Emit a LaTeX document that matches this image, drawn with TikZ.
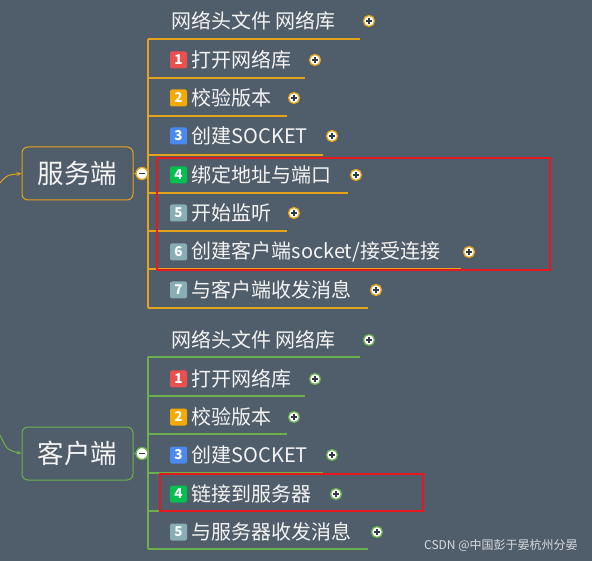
\documentclass[tikz,border=0pt]{standalone}
\usepackage{fontspec}
\setmainfont{Noto Sans CJK SC}
\usetikzlibrary{arrows.meta}
\definecolor{bg}{HTML}{505D6A}
\definecolor{org}{HTML}{E5A31A}
\definecolor{grn}{HTML}{6CB04E}
\definecolor{txt}{HTML}{F4F4F4}
\definecolor{b1}{HTML}{EB5050}
\definecolor{b2}{HTML}{F5AA00}
\definecolor{b3}{HTML}{4A8AF0}
\definecolor{b4}{HTML}{00C050}
\definecolor{b5}{HTML}{86AEB4}
\definecolor{redbox}{HTML}{E8191E}
\definecolor{signcol}{HTML}{303845}
\tikzset{
  badge/.style={rounded corners=2pt, minimum width=17pt, minimum height=17pt, inner sep=0pt,
    text=white, font=\fontsize{13.5}{13.5}\selectfont\bfseries},
  itemtext/.style={text=txt, inner sep=0pt, font=\fontsize{20}{20}\selectfont},
  uline/.style={line width=1.3pt},
  pluscirc/.style={circle, fill=white, line width=1.3pt, minimum size=11pt, inner sep=0pt,
    path picture={\draw[signcol, line width=1.2pt]
      ([xshift=-2.6pt]path picture bounding box.center) -- ([xshift=2.6pt]path picture bounding box.center)
      ([yshift=-2.6pt]path picture bounding box.center) -- ([yshift=2.6pt]path picture bounding box.center);}},
  minuscirc/.style={circle, fill=white, line width=1.3pt, minimum size=12pt, inner sep=0pt,
    path picture={\draw[signcol, line width=1.2pt]
      ([xshift=-2.8pt]path picture bounding box.center) -- ([xshift=2.8pt]path picture bounding box.center);}},
  rootbox/.style={rounded corners=6pt, line width=1pt, minimum width=111pt, minimum height=53pt,
    text=txt, font=\fontsize{26.5}{26.5}\selectfont},
  hilite/.style={draw=redbox, line width=2pt, inner sep=0pt},
}
% #1 name, #2 line colour, #3 text y, #4 underline y, #5 underline end x, #6 plus x, #7 number, #8 badge colour, #9 text
\newcommand\badgeitem[9]{%
  \node[badge, fill=#8] (#1b) at (178.5,#3) {#7};
  \node[itemtext, anchor=west] (#1t) at (191.5,#3) {#9};
  \coordinate (#1s) at (148,#4);
  \coordinate (#1e) at (#5,#4);
  \draw[#2, uline] (#1s) -- (#1e);
  \node[pluscirc, draw=#2] (#1p) at (#6,#3) {};
}
% #1 name, #2 colour, #3 text y, #4 underline y, #5 underline end, #6 plus x, #7 text
\newcommand\plainitem[7]{%
  \node[itemtext, anchor=west] (#1t) at (171,#3) {#7};
  \coordinate (#1s) at (148,#4);
  \coordinate (#1e) at (#5,#4);
  \draw[#2, uline] (#1s) -- (#1e);
  \node[pluscirc, draw=#2] (#1p) at (#6,#3) {};
}
\begin{document}
\begin{tikzpicture}[x=1pt, y=-1pt]
\path[use as bounding box, fill=bg] (0,0) rectangle (592,561);

% ---------- server ----------
\node[rootbox, draw=org] (srv) at (77.5,173.5) {服务端};
\coordinate (srvin) at (0,183);
\draw[org, line width=1pt, -{Stealth[length=5pt,width=4pt]}] (srvin) .. controls (7,175) .. (srv.west);
\coordinate (sv0) at (148,39);
\coordinate (sv1) at (148,308);
\draw[org, uline] (sv0) -- (sv1);
\draw[org, line width=1pt] (srv.east) -- (137,173.5);
\node[minuscirc, draw=org] (srvc) at (142,173.5) {};

\plainitem{s0}{org}{21}{39}{360}{369}{网络头文件 网络库}
\badgeitem{s1}{org}{60}{78}{305}{315}{1}{b1}{打开网络库}
\badgeitem{s2}{org}{98}{116}{287}{294}{2}{b2}{校验版本}
\badgeitem{s3}{org}{136}{155}{323}{332}{3}{b3}{创建SOCKET}
\badgeitem{s4}{org}{175}{193}{348}{356}{4}{b4}{绑定地址与端口}
\badgeitem{s5}{org}{213}{231}{287}{294}{5}{b5}{开始监听}
\badgeitem{s6}{org}{252}{269}{461}{469}{6}{b5}{创建客户端socket/接受连接}
\badgeitem{s7}{org}{290}{308}{368}{376}{7}{b5}{与客户端收发消息}

\node[hilite, minimum width=393pt, minimum height=112pt] (srvred) at (353.5,214) {};

% ---------- client ----------
\node[rootbox, draw=grn] (cli) at (77.5,453.5) {客户端};
\coordinate (cliin) at (0,435);
\draw[grn, line width=1pt, -{Stealth[length=5pt,width=4pt]}] (cliin) .. controls (7,450) .. (cli.west);
\coordinate (cv0) at (148,357);
\coordinate (cv1) at (148,549);
\draw[grn, uline] (cv0) -- (cv1);
\draw[grn, line width=1pt] (cli.east) -- (137,453.5);
\node[minuscirc, draw=grn] (clic) at (142,453.5) {};

\plainitem{c0}{grn}{340}{357}{360}{369}{网络头文件 网络库}
\badgeitem{c1}{grn}{379}{396}{305}{315}{1}{b1}{打开网络库}
\badgeitem{c2}{grn}{417}{434}{287}{294}{2}{b2}{校验版本}
\badgeitem{c3}{grn}{455}{473}{323}{332}{3}{b3}{创建SOCKET}
\badgeitem{c4}{grn}{494}{511}{327}{336}{4}{b4}{链接到服务器}
\badgeitem{c5}{grn}{532}{549}{368}{377}{5}{b5}{与服务器收发消息}

\node[hilite, minimum width=263pt, minimum height=37pt] (clired) at (291.5,492.5) {};

% ---------- watermark ----------
\node[anchor=west, inner sep=0pt, text=white!78!bg, font=\fontsize{12}{12}\selectfont] (wm) at (424,545) {CSDN @中国彭于晏杭州分晏};
\end{tikzpicture}
\end{document}
